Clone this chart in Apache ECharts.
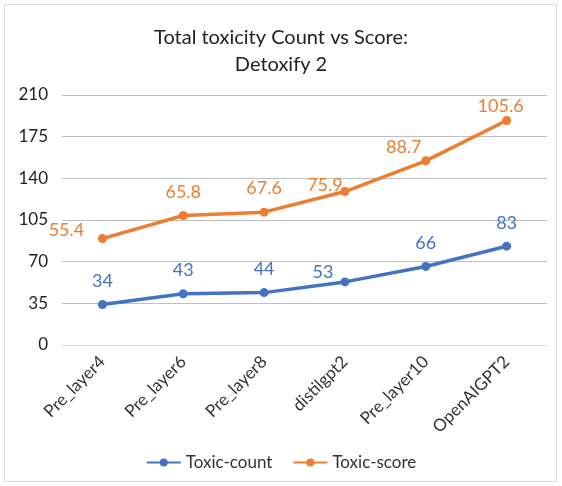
<!DOCTYPE html>
<html><head><meta charset="utf-8">
<script src="https://cdn.jsdelivr.net/npm/echarts@6/dist/echarts.min.js"></script>
<style>html,body{margin:0;padding:0;background:#fff}#c{width:562px;height:486px}</style>
</head><body><div id="c"></div>
<script>
const categories = ['Pre_layer4','Pre_layer6','Pre_layer8','distilgpt2','Pre_layer10','OpenAIGPT2'];
const toxicCount = [34, 43, 44, 53, 66, 83];
const toxicScore = [55.4, 65.8, 67.6, 75.9, 88.7, 105.6];
const yTicks = {min: 0, max: 210, interval: 35};
const FONT = 'Lato, "Open Sans", sans-serif';

const chart = echarts.init(document.getElementById('c'));
const scoreLabelPos = [[-36, -8], 'top', 'top', [-20, -6], [-22, -14], [-6, -14]];
const countLabelPos = ['top', 'top', 'top', [-22, -10], 'top', 'top'];
const mk = (arr, pos) => arr.map((v, i) => {
  const p = pos[i];
  return {value: v, label: typeof p === 'string' ? {position: 'top'} : {position: 'inside', offset: p}};
});
chart.setOption({
  animation: false,
  textStyle: {fontFamily: FONT},
  graphic: [
    {type: 'rect', shape: {x: 4.5, y: 4.5, width: 552, height: 477}, style: {fill: 'none', stroke: '#d9d9d9', lineWidth: 1}, silent: true}
  ],
  title: {
    text: 'Total toxicity Count vs Score:\nDetoxify 2',
    left: 'center', top: 19,
    textStyle: {fontFamily: FONT, fontSize: 20, fontWeight: 'normal', color: '#222', lineHeight: 27}
  },
  legend: {
    bottom: 10, left: 'center', itemWidth: 34, itemHeight: 10, itemGap: 20,
    textStyle: {fontFamily: FONT, fontSize: 17, color: '#333'},
    data: ['Toxic-count', 'Toxic-score']
  },
  grid: {left: 62, right: 15, top: 95, bottom: 141},
  xAxis: {
    type: 'category', data: categories, boundaryGap: true,
    axisLine: {lineStyle: {color: '#d9d9d9'}}, axisTick: {show: false},
    axisLabel: {rotate: 45, fontSize: 17, color: '#333', fontFamily: FONT, margin: 14}
  },
  yAxis: {
    type: 'value', min: yTicks.min, max: yTicks.max, interval: yTicks.interval,
    axisLine: {show: false}, axisTick: {show: false},
    axisLabel: {fontSize: 17, color: '#222', fontFamily: FONT, margin: 14},
    splitLine: {lineStyle: {color: '#bfbfbf', width: 1}}
  },
  series: [
    {
      name: 'Toxic-count', type: 'line', stack: 'total', data: mk(toxicCount, countLabelPos),
      symbol: 'circle', symbolSize: 9,
      lineStyle: {color: '#4472c4', width: 3.5}, itemStyle: {color: '#4472c4'},
      label: {show: true, position: 'top', distance: 10, fontSize: 18, color: '#4472c4', fontFamily: FONT}
    },
    {
      name: 'Toxic-score', type: 'line', stack: 'total', data: mk(toxicScore, scoreLabelPos),
      symbol: 'circle', symbolSize: 9,
      lineStyle: {color: '#ed7d31', width: 3.5}, itemStyle: {color: '#ed7d31'},
      label: {show: true, position: 'top', distance: 10, fontSize: 18, color: '#ed7d31', fontFamily: FONT}
    }
  ]
});
</script></body></html>
